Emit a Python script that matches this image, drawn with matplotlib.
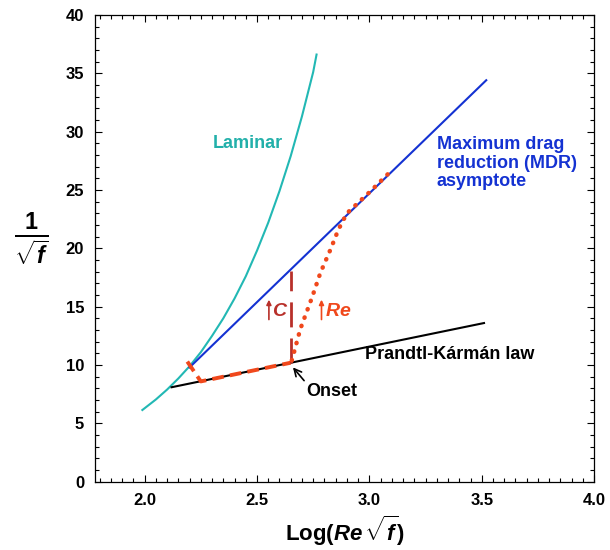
import matplotlib.pyplot as plt
from matplotlib.ticker import MultipleLocator

plt.rcParams['font.family'] = 'Liberation Sans'
plt.rcParams['mathtext.fontset'] = 'custom'
plt.rcParams['mathtext.rm'] = 'Liberation Sans'
plt.rcParams['mathtext.it'] = 'Liberation Sans:italic'
plt.rcParams['mathtext.bf'] = 'Liberation Sans:bold'
plt.rcParams['mathtext.bfit'] = 'Liberation Sans:bold:italic'

# laminar curve
lam_x = [1.99, 2.02, 2.05, 2.1, 2.15, 2.2, 2.25, 2.3, 2.35, 2.4, 2.45, 2.5,
         2.55, 2.6, 2.65, 2.7, 2.725, 2.75, 2.765]
lam_y = [6.15, 6.6, 7.05, 7.9, 8.85, 9.9, 11.1, 12.5, 14.0, 15.7, 17.6, 19.8,
         22.2, 24.9, 27.9, 31.3, 33.2, 35.1, 36.6]

# maximum drag reduction asymptote
mdr_x = [2.2, 3.52]
mdr_y = [9.8, 34.4]

# Prandtl-Karman law
pk_x = [2.12, 3.51]
pk_y = [8.1, 13.6]

# dashed path (polymer concentration)
dash_x = [2.19, 2.25, 2.65]
dash_y = [10.3, 8.6, 10.2]
conc_x = [2.65, 2.65]
conc_y = [10.2, 18.1]

# dotted path (Reynolds number)
re_x = [2.655, 2.693, 2.745, 2.782, 2.827, 2.862, 2.90, 3.0, 3.095]
re_y = [10.4, 13.1, 15.8, 17.9, 19.9, 21.6, 23.0, 24.8, 26.6]

fig = plt.figure(figsize=(6.1, 5.5), dpi=100)
ax = fig.add_axes([0.156, 0.124, 0.818, 0.849])

ax.plot(lam_x, lam_y, color='#22b8b4', lw=1.5)
ax.plot(mdr_x, mdr_y, color='#1432d2', lw=1.5)
ax.plot(pk_x, pk_y, color='black', lw=1.5)
ax.plot(dash_x, dash_y, color='#f0481c', lw=2.8, dashes=(3, 1.6))
ax.plot(conc_x, conc_y, color='#b8302a', lw=2.0, dashes=(9, 4))
ax.plot(re_x, re_y, color='#f0481c', lw=3.2, linestyle=(0, (0.1, 1.9)),
        dash_capstyle='round')

ax.text(2.46, 29.0, 'Laminar', color='#22b0aa', fontsize=13, fontweight='bold',
        ha='center', va='center')
ax.text(3.30, 27.3, 'Maximum drag\nreduction (MDR)\nasymptote', color='#1432d2',
        fontsize=13, fontweight='bold', ha='left', va='center', linespacing=1.1)
ax.text(2.98, 10.9, 'Prandtl-Kármán law', color='black', fontsize=13,
        fontweight='bold', ha='left', va='center')
ax.annotate('Onset', xy=(2.66, 9.8), xytext=(2.72, 7.7), fontsize=13,
            fontweight='bold', ha='left', va='center',
            arrowprops=dict(arrowstyle='->', color='black', lw=1.2,
                            shrinkA=0, shrinkB=0, relpos=(0, 1)))
ax.annotate('', xy=(2.553, 15.6), xytext=(2.553, 13.9),
            arrowprops=dict(arrowstyle='-|>', color='#b8302a', lw=1.2,
                            mutation_scale=7, shrinkA=0, shrinkB=0))
ax.text(2.568, 14.6, r'$\mathbfit{C}$', color='#b8302a', fontsize=14,
        ha='left', va='center')
ax.annotate('', xy=(2.787, 15.6), xytext=(2.787, 13.9),
            arrowprops=dict(arrowstyle='-|>', color='#f0481c', lw=1.2,
                            mutation_scale=7, shrinkA=0, shrinkB=0))
ax.text(2.802, 14.6, r'$\mathbfit{Re}$', color='#f0481c', fontsize=14,
        ha='left', va='center')

ax.set_xlim(1.78, 4.0)
ax.set_ylim(0, 40)
ax.xaxis.set_major_locator(MultipleLocator(0.5))
ax.xaxis.set_minor_locator(MultipleLocator(0.05))
ax.yaxis.set_major_locator(MultipleLocator(5))
ax.yaxis.set_minor_locator(MultipleLocator(1))
ax.tick_params(which='both', direction='in', top=True, right=True, width=0.8)
ax.tick_params(which='major', length=5, labelsize=12, pad=8)
ax.tick_params(which='minor', length=3)
ax.set_xticks([2.0, 2.5, 3.0, 3.5, 4.0])
ax.set_xticklabels(['2.0', '2.5', '3.0', '3.5', '4.0'], fontweight='bold')
ax.set_yticks(range(0, 41, 5))
ax.set_yticklabels([str(v) for v in range(0, 41, 5)], fontweight='bold')
for s in ax.spines.values():
    s.set_linewidth(0.9)

ax.set_xlabel(r'$\mathbf{Log(}\mathbfit{Re}\,\sqrt{\mathbfit{f}}\mathbf{)}$',
              fontsize=16, labelpad=4)
fig.text(0.052, 0.565, r'$\mathbf{\frac{1}{\sqrt{\mathbfit{f}}}}$', fontsize=24,
         ha='center', va='center')

fig.savefig('out.png', dpi=100)
